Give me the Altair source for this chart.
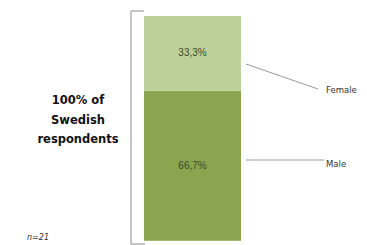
import altair as alt
import pandas as pd

genders = ["Male", "Female"]
shares = [66.7, 33.3]
share_labels = ["66,7%", "33,3%"]
group = "Sweden"

df = pd.DataFrame({
    "group": [group] * len(genders),
    "gender": genders,
    "share": shares,
    "label": share_labels,
    "order": [0, 1],
})

W, H = 351, 237
yscale = alt.Scale(domain=[0, 100], range=[232.7, 8], nice=False, zero=False)
xscale = alt.Scale(domain=[group], range=[136, 233], paddingInner=0, paddingOuter=0)
colors = alt.Scale(domain=["Male", "Female"], range=["#8aa54f", "#bdd09a"])

base = alt.Chart(df)

bars = base.mark_bar(size=97).encode(
    x=alt.X("group:N", scale=xscale, axis=None),
    y=alt.Y("share:Q", stack="zero", scale=yscale, axis=None),
    color=alt.Color("gender:N", scale=colors, legend=None),
    order=alt.Order("order:Q"),
)

labels = base.transform_stack(
    stack="share", groupby=["group"], sort=[alt.SortField("order")], as_=["y0", "y1"]
).transform_calculate(mid="(datum.y0 + datum.y1) / 2").mark_text(
    font="Liberation Sans", fontSize=10, color="#3b4a2c"
).encode(
    x=alt.X("group:N", scale=xscale, axis=None),
    y=alt.Y("mid:Q", scale=yscale, axis=None),
    text="label:N",
)

gray = "#9a9a9a"
# bracket
br_v = alt.Chart(df.head(1)).mark_rule(color="#b0b0b0", strokeWidth=1.5).encode(
    x=alt.value(123), y=alt.value(3), y2=alt.value(236.5))
br_t = alt.Chart(df.head(1)).mark_rule(color="#b0b0b0", strokeWidth=1.5).encode(
    x=alt.value(123), x2=alt.value(136), y=alt.value(3))
br_b = alt.Chart(df.head(1)).mark_rule(color="#b0b0b0", strokeWidth=1.5).encode(
    x=alt.value(123), x2=alt.value(137), y=alt.value(236))

# leader lines
lead_f = alt.Chart(df.head(1)).mark_rule(color=gray, strokeWidth=1).encode(
    x=alt.value(238), y=alt.value(56), x2=alt.value(310), y2=alt.value(81))
lead_m = alt.Chart(df.head(1)).mark_rule(color=gray, strokeWidth=1).encode(
    x=alt.value(238), x2=alt.value(316), y=alt.value(152))

txt_f = alt.Chart(df.head(1)).mark_text(
    text="Female", font="DejaVu Sans", fontSize=8.5, align="left", baseline="middle", color="#333333"
).encode(x=alt.value(318), y=alt.value(82))
txt_m = alt.Chart(df.head(1)).mark_text(
    text="Male", font="DejaVu Sans", fontSize=8.5, align="left", baseline="middle", color="#333333"
).encode(x=alt.value(318), y=alt.value(156))

left = alt.Chart(df.head(1)).mark_text(
    text=["100% of", "Swedish", "respondents"], font="DejaVu Sans", fontSize=11.5,
    fontWeight="bold", align="center", baseline="middle", lineHeight=19.5, color="#111111"
).encode(x=alt.value(70), y=alt.value(93))

nlab = alt.Chart(df.head(1)).mark_text(
    text="n=21", font="DejaVu Sans", fontSize=8, fontStyle="italic", align="center",
    baseline="middle", color="#333333"
).encode(x=alt.value(30), y=alt.value(230))

chart = alt.layer(
    bars, labels, br_v, br_t, br_b, lead_f, lead_m, txt_f, txt_m, left, nlab
).properties(
    width=W, height=H, autosize=alt.AutoSizeParams(type="none"), padding=0
).configure_view(stroke=None)

chart.save("out.html", embed_options={"renderer": "svg", "actions": False})
